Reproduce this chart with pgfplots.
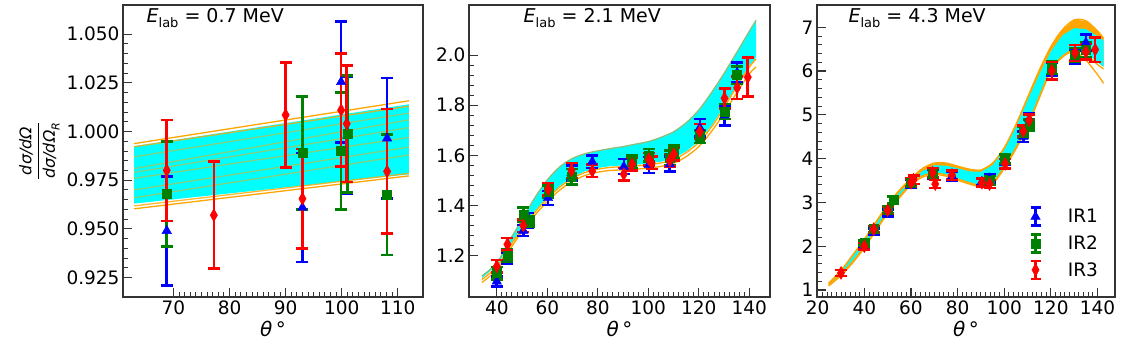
\documentclass[border=0pt]{standalone}
\usepackage{pgfplots}
\pgfplotsset{compat=1.18}
\usepackage{fontspec}
\setmainfont{DejaVu Sans}

\definecolor{mporange}{RGB}{255,165,0}
\definecolor{mpgreen}{RGB}{0,128,0}
\definecolor{mpcyan}{RGB}{0,255,255}
\definecolor{mpblue}{RGB}{0,0,255}
\definecolor{mpred}{RGB}{255,0,0}
\definecolor{bandtop}{RGB}{141,191,122}

\pgfplotsset{
  panel/.style={
    scale only axis, height=292pt,
    axis line style={line width=1.4pt, black!80},
    tick align=inside, tick pos=left,
    major tick length=9pt, minor tick length=5pt,
    major tick style={line width=1.2pt, black!80},
    minor tick style={line width=0.9pt, black!80},
    tick label style={font=\fontsize{18.5}{21}\selectfont},
    /pgf/number format/assume math mode=true,
    xlabel={\fontsize{20}{22}\selectfont{\itshape θ}\,°},
  },
  ebar/.style={
    error bars/.cd, y dir=both, y explicit, error mark=|,
    error bar style={line width=2.6pt},
    error mark options={line width=2.6pt, mark size=6pt},
  },
  legimg/.style={
    legend image code/.code={
      \draw[##1, mark=none, line width=2.6pt] (0pt,-9pt) -- (0pt,9pt)
        (-5pt,-9pt) -- (5pt,-9pt) (-5pt,9pt) -- (5pt,9pt);
      \draw[##1] plot coordinates {(0pt,0pt)};
    },
  },
  ir1/.style={only marks, color=mpblue, mark=triangle*, mark size=5.5pt, legimg, ebar},
  ir2/.style={only marks, color=mpgreen, mark=square*, mark size=4.5pt, legimg, ebar},
  ir3/.style={only marks, color=mpred, mark=diamond*, mark size=6.5pt,
    mark options={xscale=0.75}, legimg, ebar},
  oline/.style={mporange, line width=1.3pt, forget plot},
}

\begin{document}
\begin{tikzpicture}
\path (0pt,0pt) (1124pt,352pt);

% ---------------- E = 0.7 MeV
\begin{axis}[panel, at={(123pt,55pt)}, anchor=south west, width=300pt,
  xmin=61, xmax=114.5, ymin=0.915, ymax=1.065,
  xtick={70,80,90,100,110}, minor x tick num=9,
  ytick={0.925,0.95,0.975,1.0,1.025,1.05}, minor y tick num=4,
  yticklabel style={/pgf/number format/.cd, fixed, fixed zerofill, precision=3},
  ylabel={\fontsize{16}{18}\selectfont$\displaystyle\frac{\mbox{\itshape dσ/dΩ}}{\mbox{\itshape dσ/dΩ\raisebox{-0.3em}{\fontsize{11}{11}\selectfont R}}}$},
]
\addplot[fill=mpcyan, draw=none, forget plot] coordinates {
  (63,0.9925) (112,1.0140) (112,0.9780) (63,0.9630)};
\addplot[oline] coordinates {(63,0.9938) (112,1.0158)};
\addplot[oline, opacity=0.8] coordinates {(63,0.9922) (112,1.0130)};
\addplot[oline, opacity=0.5] coordinates {(63,0.9870) (112,1.0095)};
\addplot[oline, opacity=0.5] coordinates {(63,0.9810) (112,1.0060)};
\addplot[oline, opacity=0.5] coordinates {(63,0.9790) (112,1.0020)};
\addplot[oline, opacity=0.5] coordinates {(63,0.9760) (112,0.9970)};
\addplot[oline, opacity=0.5] coordinates {(63,0.9700) (112,0.9920)};
\addplot[oline, opacity=0.5] coordinates {(63,0.9660) (112,0.9880)};
\addplot[oline, opacity=0.8] coordinates {(63,0.9618) (112,0.9785)};
\addplot[oline] coordinates {(63,0.9603) (112,0.9772)};

\addplot[ir1] coordinates {
  (68.8,0.9490) +- (0,0.0280)
  (93.0,0.9610) +- (0,0.0280)
  (99.9,1.0255) +- (0,0.0310)
  (101.0,0.9980) +- (0,0.0300)
  (108.1,0.9965) +- (0,0.0310)
};
\addplot[ir2] coordinates {
  (68.8,0.9680) +- (0,0.0270)
  (93.0,0.9890) +- (0,0.0290)
  (99.9,0.9900) +- (0,0.0300)
  (101.0,0.9988) +- (0,0.0300)
  (108.1,0.9675) +- (0,0.0310)
};
\addplot[ir3] coordinates {
  (68.8,0.9800) +- (0,0.0260)
  (77.2,0.9570) +- (0,0.0275)
  (90.0,1.0085) +- (0,0.0270)
  (93.0,0.9655) +- (0,0.0255)
  (99.9,1.0110) +- (0,0.0290)
  (100.9,1.0040) +- (0,0.0300)
  (108.1,0.9795) +- (0,0.0320)
};
\node[anchor=west, font=\fontsize{19}{22}\selectfont] at (rel axis cs:0.067,0.955)
  {{\itshape E}\raisebox{-0.25em}{\fontsize{13}{14}\selectfont lab} = 0.7 MeV};
\end{axis}

% ---------------- E = 2.1 MeV
\begin{axis}[panel, at={(469pt,55pt)}, anchor=south west, width=301pt,
  xmin=29, xmax=148.2, ymin=1.035, ymax=2.2,
  xtick={40,60,...,140}, minor x tick num=9,
  ytick={1.2,1.4,1.6,1.8,2.0}, minor y tick num=4,
  yticklabel style={/pgf/number format/.cd, fixed, fixed zerofill, precision=1},
]
\addplot[fill=mpcyan, draw=none, forget plot] coordinates {
  (34.1,1.119) (40,1.170) (45,1.260) (50,1.343) (55,1.430) (60,1.502) (65,1.555)
  (70,1.588) (75,1.607) (80,1.618) (85,1.627) (90,1.635) (95,1.645) (100,1.655)
  (105,1.672) (110,1.694) (115,1.730) (120,1.781) (125,1.850) (130,1.927)
  (135,2.010) (140,2.095) (142.7,2.139)
  (142.7,1.990) (140,1.957) (135,1.880) (130,1.795) (125,1.718) (120,1.657)
  (115,1.616) (110,1.588) (105,1.575) (100,1.567) (95,1.563) (90,1.560)
  (85,1.557) (80,1.550) (75,1.537) (70,1.514) (65,1.479) (60,1.433) (55,1.377)
  (50,1.313) (45,1.239) (40,1.160) (34.1,1.110)};
\addplot[bandtop, smooth, line width=1.3pt, forget plot] coordinates {
  (34.1,1.119) (40,1.170) (45,1.260) (50,1.343) (55,1.430) (60,1.502) (65,1.555)
  (70,1.588) (75,1.607) (80,1.618) (85,1.627) (90,1.635) (95,1.645) (100,1.655)
  (105,1.672) (110,1.694) (115,1.730) (120,1.781) (125,1.850) (130,1.927)
  (135,2.010) (140,2.095) (142.7,2.139)};
\addplot[oline, smooth] coordinates {
  (34.1,1.105) (40,1.155) (45,1.234) (50,1.308) (55,1.372) (60,1.428) (65,1.474)
  (70,1.509) (75,1.532) (80,1.545) (85,1.552) (90,1.555) (95,1.558) (100,1.562)
  (105,1.570) (110,1.583) (115,1.611) (120,1.652) (125,1.713) (130,1.790)
  (135,1.875) (140,1.952) (142.7,1.985)};
\addplot[oline, smooth] coordinates {
  (34.1,1.093) (40,1.143) (45,1.222) (50,1.296) (55,1.360) (60,1.416) (65,1.462)
  (70,1.497) (75,1.520) (80,1.533) (85,1.540) (90,1.542) (95,1.545) (100,1.549)
  (105,1.556) (110,1.568) (115,1.595) (120,1.635) (125,1.695) (130,1.768)
  (135,1.850) (140,1.925) (142.7,1.953)};

\addplot[ir1] coordinates {
  (40.0,1.097) +- (0,0.020)
  (44.2,1.190) +- (0,0.022)
  (50.5,1.300) +- (0,0.022)
  (52.5,1.340) +- (0,0.030)
  (60.3,1.430) +- (0,0.028)
  (69.6,1.530) +- (0,0.030)
  (77.8,1.575) +- (0,0.025)
  (90.3,1.555) +- (0,0.030)
  (93.6,1.570) +- (0,0.030)
  (100.2,1.562) +- (0,0.032)
  (108.5,1.565) +- (0,0.030)
  (120.4,1.710) +- (0,0.035)
  (130.2,1.760) +- (0,0.040)
  (135.2,1.930) +- (0,0.040)
};
\addplot[ir2] coordinates {
  (40.0,1.130) +- (0,0.025)
  (44.2,1.200) +- (0,0.025)
  (50.5,1.365) +- (0,0.028)
  (52.9,1.336) +- (0,0.022)
  (60.4,1.455) +- (0,0.025)
  (69.6,1.515) +- (0,0.030)
  (93.6,1.575) +- (0,0.025)
  (100.2,1.600) +- (0,0.025)
  (108.5,1.590) +- (0,0.030)
  (110.1,1.615) +- (0,0.025)
  (120.4,1.675) +- (0,0.025)
  (130.2,1.775) +- (0,0.030)
  (135.2,1.920) +- (0,0.035)
};
\addplot[ir3] coordinates {
  (40.0,1.157) +- (0,0.025)
  (44.2,1.245) +- (0,0.025)
  (50.5,1.320) +- (0,0.025)
  (60.4,1.465) +- (0,0.025)
  (69.6,1.540) +- (0,0.030)
  (77.8,1.538) +- (0,0.025)
  (90.3,1.525) +- (0,0.025)
  (93.6,1.565) +- (0,0.025)
  (100.2,1.585) +- (0,0.025)
  (101.3,1.570) +- (0,0.025)
  (108.5,1.580) +- (0,0.025)
  (110.1,1.605) +- (0,0.025)
  (120.4,1.695) +- (0,0.030)
  (130.2,1.828) +- (0,0.040)
  (135.2,1.870) +- (0,0.045)
  (139.4,1.912) +- (0,0.078)
};
\node[anchor=west, font=\fontsize{19}{22}\selectfont] at (rel axis cs:0.17,0.955)
  {{\itshape E}\raisebox{-0.25em}{\fontsize{13}{14}\selectfont lab} = 2.1 MeV};
\end{axis}

% ---------------- E = 4.3 MeV
\begin{axis}[panel, at={(817pt,55pt)}, anchor=south west, width=298pt,
  xmin=19.7, xmax=147.5, ymin=0.84, ymax=7.51,
  xtick={20,40,...,140}, minor x tick num=9,
  ytick={1,...,7}, minor y tick num=4,
  legend style={draw=none, fill=none, at={(0.96,0.05)}, anchor=south east,
    font=\fontsize{18.5}{21}\selectfont, row sep=6pt,
    /tikz/every odd column/.append style={column sep=24pt}},
]
% outer envelope (orange)
\addplot[fill=mporange, draw=none, forget plot] coordinates {
  (24.7,1.16) (30,1.45) (35,1.80) (40,2.16) (45,2.56) (50,2.95) (55,3.28) (60,3.55)
  (65,3.78) (70,3.90) (75,3.90) (80,3.83) (85,3.76) (90,3.74) (95,3.90) (100,4.25)
  (105,4.78) (110,5.40) (115,6.02) (120,6.56) (125,6.95) (130,7.17) (135,7.15)
  (140,6.92) (142.6,6.75)
  (142.6,6.10) (140,6.20) (135,6.43) (130,6.52) (125,6.36) (120,6.04) (115,5.42)
  (110,4.77) (105,4.26) (100,3.82) (95,3.46) (90,3.40) (85,3.46) (80,3.55)
  (75,3.64) (70,3.68) (65,3.62) (60,3.44) (55,3.14) (50,2.79) (45,2.40)
  (40,2.00) (35,1.66) (30,1.37) (24.7,1.13)};
% inner band (cyan)
\addplot[fill=mpcyan, draw=none, forget plot] coordinates {
  (24.7,1.12) (30,1.41) (35,1.76) (40,2.11) (45,2.51) (50,2.90) (55,3.23) (60,3.50)
  (65,3.72) (70,3.85) (75,3.84) (80,3.78) (85,3.71) (90,3.70) (95,3.85) (100,4.20)
  (105,4.72) (110,5.33) (115,5.92) (120,6.45) (125,6.82) (130,6.98) (135,6.96)
  (140,6.80) (142.6,6.70)
  (142.6,6.10) (140,6.20) (135,6.43) (130,6.52) (125,6.36) (120,6.04) (115,5.42)
  (110,4.77) (105,4.26) (100,3.82) (95,3.46) (90,3.40) (85,3.46) (80,3.55)
  (75,3.64) (70,3.68) (65,3.62) (60,3.44) (55,3.14) (50,2.79) (45,2.40)
  (40,2.00) (35,1.66) (30,1.37) (24.7,1.13)};
\addplot[oline, smooth] coordinates {
  (24.7,1.16) (30,1.45) (35,1.80) (40,2.16) (45,2.56) (50,2.95) (55,3.28) (60,3.55)
  (65,3.78) (70,3.90) (75,3.90) (80,3.83) (85,3.76) (90,3.74) (95,3.90) (100,4.25)
  (105,4.78) (110,5.40) (115,6.02) (120,6.56) (125,6.95) (130,7.17) (135,7.15)
  (140,6.92) (142.6,6.75)};
\addplot[oline, smooth] coordinates {
  (24.7,1.12) (30,1.36) (35,1.65) (40,1.99) (45,2.39) (50,2.78) (55,3.13) (60,3.43)
  (65,3.61) (70,3.67) (75,3.63) (80,3.54) (85,3.45) (90,3.39) (95,3.45) (100,3.81)
  (105,4.25) (110,4.76) (115,5.41) (120,6.03) (125,6.34) (130,6.49) (135,6.38)
  (140,6.15) (142.6,6.05)};
\addplot[oline, smooth] coordinates {
  (24.7,1.09) (30,1.33) (35,1.62) (40,1.96) (45,2.36) (50,2.75) (55,3.10) (60,3.40)
  (65,3.58) (70,3.64) (75,3.60) (80,3.51) (85,3.42) (90,3.36) (95,3.42) (100,3.78)
  (105,4.22) (110,4.73) (115,5.38) (120,6.00) (125,6.32) (130,6.45) (135,6.25)
  (140,5.92) (142.6,5.72)};

\addplot[ir1] coordinates {
  (40.0,2.02) +- (0,0.06)
  (44.0,2.33) +- (0,0.07)
  (50.0,2.76) +- (0,0.08)
  (60.0,3.43) +- (0,0.09)
  (69.3,3.64) +- (0,0.10)
  (77.6,3.60) +- (0,0.10)
  (90.4,3.47) +- (0,0.09)
  (93.7,3.55) +- (0,0.10)
  (100.4,3.97) +- (0,0.11)
  (108.2,4.50) +- (0,0.12)
  (110.7,4.90) +- (0,0.13)
  (120.4,6.05) +- (0,0.15)
  (130.4,6.32) +- (0,0.16)
  (135.0,6.65) +- (0,0.18)
};
\addplot[ir2] coordinates {
  (40.0,2.07) +- (0,0.06)
  (44.0,2.39) +- (0,0.07)
  (50.0,2.84) +- (0,0.08)
  (52.5,3.06) +- (0,0.08)
  (60.0,3.45) +- (0,0.09)
  (69.3,3.66) +- (0,0.10)
  (93.7,3.50) +- (0,0.10)
  (100.4,3.99) +- (0,0.10)
  (108.2,4.60) +- (0,0.12)
  (110.7,4.77) +- (0,0.13)
  (120.4,6.08) +- (0,0.15)
  (130.4,6.37) +- (0,0.16)
  (135.0,6.48) +- (0,0.17)
};
\addplot[ir3] coordinates {
  (30.0,1.39) +- (0,0.07)
  (40.0,2.00) +- (0,0.07)
  (44.0,2.39) +- (0,0.07)
  (50.0,2.82) +- (0,0.08)
  (60.0,3.45) +- (0,0.10)
  (61.1,3.52) +- (0,0.10)
  (69.3,3.68) +- (0,0.10)
  (70.4,3.42) +- (0,0.09)
  (77.6,3.63) +- (0,0.10)
  (90.4,3.45) +- (0,0.09)
  (93.7,3.42) +- (0,0.09)
  (100.4,3.88) +- (0,0.11)
  (108.2,4.63) +- (0,0.13)
  (110.7,4.88) +- (0,0.13)
  (120.4,6.01) +- (0,0.20)
  (130.4,6.42) +- (0,0.18)
  (135.0,6.44) +- (0,0.18)
  (139.0,6.49) +- (0,0.28)
};
\legend{IR1, IR2, IR3}
\node[anchor=west, font=\fontsize{19}{22}\selectfont] at (rel axis cs:0.094,0.955)
  {{\itshape E}\raisebox{-0.25em}{\fontsize{13}{14}\selectfont lab} = 4.3 MeV};
\end{axis}
\end{tikzpicture}
\end{document}
